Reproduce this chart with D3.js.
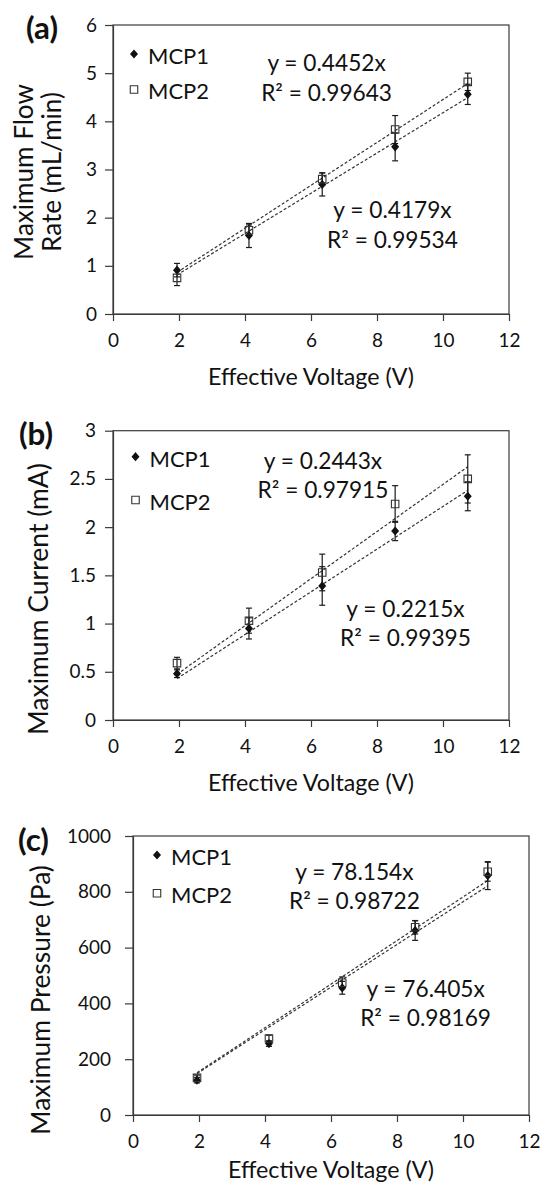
<!DOCTYPE html>
<html>
<head>
<meta charset="utf-8">
<script src="https://cdn.jsdelivr.net/npm/d3@7"></script>
<style>
  body { margin: 0; background: #fff; }
  text { font-family: Lato, "Open Sans", sans-serif; fill: #111; }
</style>
</head>
<body>
<div id="chart"></div>
<script>
// Effective voltage of each run (V), shared by all three panels
const voltage = [1.94, 4.12, 6.34, 8.55, 10.75];
const seriesNames = ["MCP1", "MCP2"];

// (a) maximum flow rate (mL/min)
const flowMCP1 = [0.91, 1.63, 2.69, 3.47, 4.56];
const flowErrMCP1 = [0.14, 0.25, 0.24, 0.29, 0.21];
const flowMCP2 = [0.75, 1.74, 2.80, 3.83, 4.82];
const flowErrMCP2 = [0.16, 0.11, 0.13, 0.29, 0.18];
const flowSlopes = [0.4179, 0.4452];
const flowR2 = [0.99534, 0.99643];

// (b) maximum current (mA)
const currentMCP1 = [0.48, 0.95, 1.39, 1.96, 2.32];
const currentErrMCP1 = [0.04, 0.11, 0.20, 0.10, 0.15];
const currentMCP2 = [0.59, 1.03, 1.53, 2.24, 2.50];
const currentErrMCP2 = [0.06, 0.13, 0.19, 0.19, 0.25];
const currentSlopes = [0.2215, 0.2443];
const currentR2 = [0.99395, 0.97915];

// (c) maximum pressure (Pa)
const pressureMCP1 = [125, 256, 456, 661, 858];
const pressureErrMCP1 = [10, 10, 23, 35, 50];
const pressureMCP2 = [133, 274, 474, 673, 872];
const pressureErrMCP2 = [10, 12, 21, 24, 34];
const pressureSlopes = [76.405, 78.154];
const pressureR2 = [0.98169, 0.98722];

// tick values
const voltTicks = [0, 2, 4, 6, 8, 10, 12];
const flowTicks = [0, 1, 2, 3, 4, 5, 6];
const currentTicks = [0, 0.5, 1, 1.5, 2, 2.5, 3];
const pressureTicks = [0, 200, 400, 600, 800, 1000];

const svg = d3.select("#chart").append("svg")
    .attr("width", 542)
    .attr("height", 1182);

// font size at which a string takes up the given width
function fitSize(str, width, weight) {
  const t = svg.append("text")
      .attr("font-size", 100)
      .attr("font-weight", weight || "normal")
      .text(str);
  const w = t.node().getComputedTextLength();
  t.remove();
  return 100 * width / w;
}

const tickSize = fitSize("1000", 44);
const legendSize = fitSize("MCP1", 61);
const eqSize = fitSize("R² = 0.99643", 131);
const xTitleSize = fitSize("Effective Voltage (V)", 206);
const labelSize = fitSize("(a)", 32, "bold");

const panels = [
  {
    label: "(a)", labelPos: [26, 28],
    box: { left: 113, right: 509, top: 25, bottom: 314 },
    yTicks: flowTicks, yPad: 8,
    values: [flowMCP1, flowMCP2], errors: [flowErrMCP1, flowErrMCP2],
    slopes: flowSlopes, r2: flowR2,
    yTitle: ["Maximum Flow", "Rate (mL/min)"], yTitleX: [33, 61], yTitleY: 172,
    yTitleSize: fitSize("Maximum Flow", 176),
    legend: { x: 134, y: [54, 89.5] },
    eqs: [{ x: 392.5, y: [210, 240] }, { x: 326.6, y: [63.3, 93.3] }],
    xTitleY: 376.7
  },
  {
    label: "(b)", labelPos: [19, 434],
    box: { left: 113, right: 509, top: 430.7, bottom: 720 },
    yTicks: currentTicks, yPad: 9,
    values: [currentMCP1, currentMCP2], errors: [currentErrMCP1, currentErrMCP2],
    slopes: currentSlopes, r2: currentR2,
    yTitle: ["Maximum Current (mA)"], yTitleX: [48], yTitleY: 599,
    yTitleSize: fitSize("Maximum Current (mA)", 272),
    legend: { x: 135.5, y: [456.7, 500] },
    eqs: [{ x: 405.5, y: [609.3, 638.3] }, { x: 323, y: [461, 490] }],
    xTitleY: 782.7
  },
  {
    label: "(c)", labelPos: [18, 840],
    box: { left: 133, right: 529, top: 836, bottom: 1115 },
    yTicks: pressureTicks, yPad: 14,
    values: [pressureMCP1, pressureMCP2], errors: [pressureErrMCP1, pressureErrMCP2],
    slopes: pressureSlopes, r2: pressureR2,
    yTitle: ["Maximum Pressure (Pa)"], yTitleX: [50], yTitleY: 1000,
    yTitleSize: fitSize("Maximum Pressure (Pa)", 270),
    legend: { x: 157, y: [855, 893.3] },
    eqs: [{ x: 425.6, y: [989, 1018.3] }, { x: 354.4, y: [871.7, 901] }],
    xTitleY: 1170
  }
];

const diamond = "M0,-4.6L4,0L0,4.6L-4,0Z";
const square = d3.symbol(d3.symbolSquare, 56)();
const lineColor = "#3a3a3a";

panels.forEach(p => {
  const b = p.box;
  const g = svg.append("g");

  const x = d3.scaleLinear().domain([0, 12]).range([b.left, b.right]);
  const y = d3.scaleLinear().domain([0, d3.max(p.yTicks)]).range([b.bottom, b.top]);

  // plot frame (top and right edges)
  g.append("rect")
      .attr("x", b.left).attr("y", b.top)
      .attr("width", b.right - b.left).attr("height", b.bottom - b.top)
      .attr("fill", "none").attr("stroke", lineColor).attr("stroke-width", 1.2);

  // axes
  const xAxis = g.append("g")
      .attr("transform", `translate(0,${b.bottom})`)
      .call(d3.axisBottom(x).tickValues(voltTicks).tickFormat(d => String(d))
          .tickSize(7).tickSizeOuter(0).tickPadding(13));
  const yAxis = g.append("g")
      .attr("transform", `translate(${b.left},0)`)
      .call(d3.axisLeft(y).tickValues(p.yTicks).tickFormat(d => String(d))
          .tickSize(8).tickSizeOuter(0).tickPadding(p.yPad));
  [xAxis, yAxis].forEach(a => {
    a.select(".domain").attr("stroke", lineColor).attr("stroke-width", 1.2);
    a.selectAll(".tick line").attr("stroke", lineColor).attr("stroke-width", 1.2);
    a.selectAll(".tick text").attr("font-size", tickSize).attr("fill", "#111")
        .attr("font-family", "Lato, sans-serif");
  });

  // linear trend lines through the origin
  p.slopes.forEach(s => {
    g.append("path")
        .datum(d3.extent(voltage))
        .attr("d", d3.line().x(d => x(d)).y(d => y(s * d)))
        .attr("fill", "none")
        .attr("stroke", "#333")
        .attr("stroke-width", 1.2)
        .attr("stroke-dasharray", "3,2");
  });

  // error bars
  p.values.forEach((vals, si) => {
    const rows = voltage.map((v, i) => ({ v, val: vals[i], err: p.errors[si][i] }));
    const eb = g.append("g").selectAll("g").data(rows).join("g")
        .attr("stroke", "#1a1a1a").attr("stroke-width", 1.2);
    eb.append("line")
        .attr("x1", d => x(d.v)).attr("x2", d => x(d.v))
        .attr("y1", d => y(d.val - d.err)).attr("y2", d => y(d.val + d.err));
    eb.append("line")
        .attr("x1", d => x(d.v) - 3).attr("x2", d => x(d.v) + 3)
        .attr("y1", d => y(d.val - d.err)).attr("y2", d => y(d.val - d.err));
    eb.append("line")
        .attr("x1", d => x(d.v) - 3).attr("x2", d => x(d.v) + 3)
        .attr("y1", d => y(d.val + d.err)).attr("y2", d => y(d.val + d.err));
  });

  // markers: MCP1 filled diamonds, MCP2 open squares
  g.append("g").selectAll("path").data(p.values[0]).join("path")
      .attr("transform", (d, i) => `translate(${x(voltage[i])},${y(d)})`)
      .attr("d", diamond)
      .attr("fill", "#111");
  g.append("g").selectAll("path").data(p.values[1]).join("path")
      .attr("transform", (d, i) => `translate(${x(voltage[i])},${y(d)})`)
      .attr("d", square)
      .attr("fill", "none")
      .attr("stroke", "#333")
      .attr("stroke-width", 1.1);

  // legend
  seriesNames.forEach((name, i) => {
    g.append("path")
        .attr("transform", `translate(${p.legend.x},${p.legend.y[i]})`)
        .attr("d", i === 0 ? diamond : square)
        .attr("fill", i === 0 ? "#111" : "none")
        .attr("stroke", i === 0 ? "none" : "#333")
        .attr("stroke-width", 1.1);
    g.append("text")
        .attr("x", p.legend.x + 14)
        .attr("y", p.legend.y[i] + 2)
        .attr("dy", "0.36em")
        .attr("font-size", legendSize)
        .text(name);
  });

  // regression equations
  p.eqs.forEach((e, i) => {
    const lines = [`y = ${p.slopes[i]}x`, `R² = ${p.r2[i]}`];
    lines.forEach((t, j) => {
      g.append("text")
          .attr("x", e.x).attr("y", e.y[j])
          .attr("dy", "0.36em")
          .attr("text-anchor", "middle")
          .attr("font-size", eqSize)
          .text(t);
    });
  });

  // panel label
  g.append("text")
      .attr("x", p.labelPos[0]).attr("y", p.labelPos[1])
      .attr("dy", "0.36em")
      .attr("font-size", labelSize)
      .attr("font-weight", "bold")
      .text(p.label);

  // axis titles
  g.append("text")
      .attr("x", (b.left + b.right) / 2).attr("y", p.xTitleY)
      .attr("dy", "0.36em")
      .attr("text-anchor", "middle")
      .attr("font-size", xTitleSize)
      .text("Effective Voltage (V)");
  p.yTitle.forEach((t, i) => {
    g.append("text")
        .attr("transform", `translate(${p.yTitleX[i]},${p.yTitleY}) rotate(-90)`)
        .attr("text-anchor", "middle")
        .attr("font-size", p.yTitleSize)
        .text(t);
  });
});
</script>
</body>
</html>
